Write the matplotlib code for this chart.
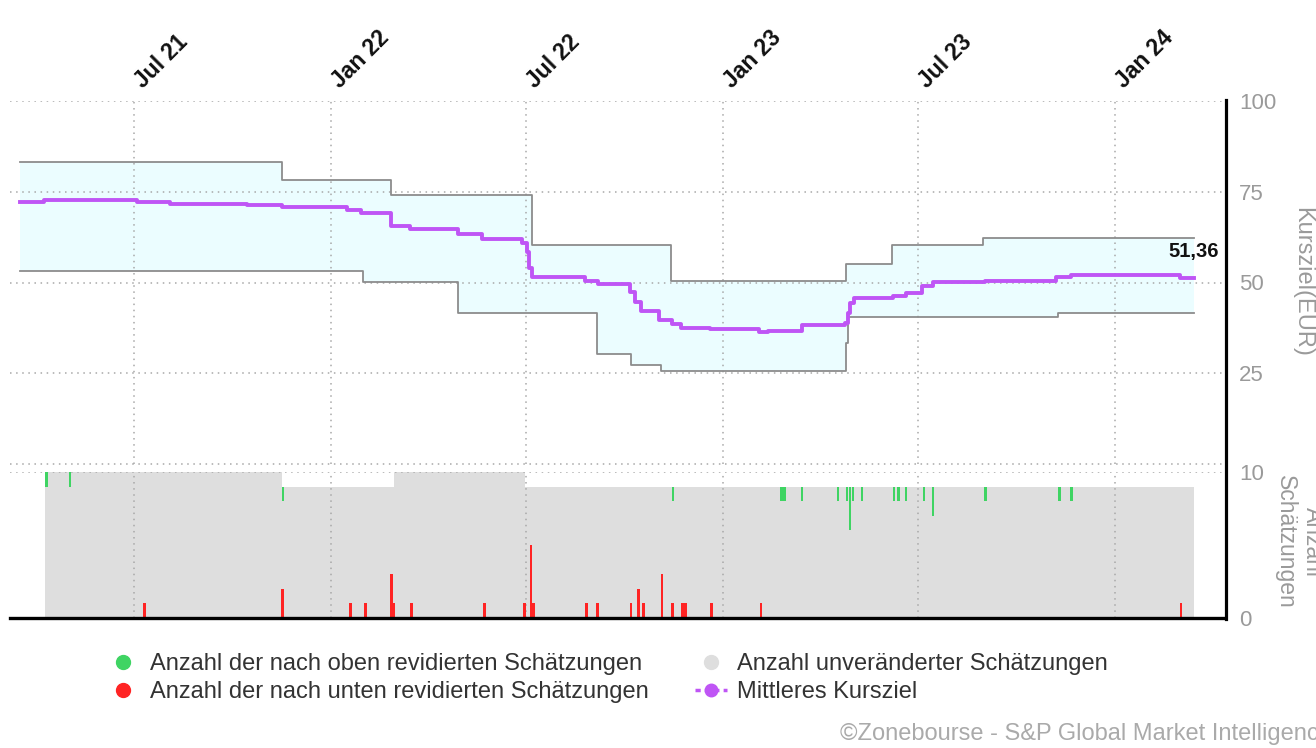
import numpy as np
import matplotlib
matplotlib.use("Agg")
import matplotlib.pyplot as plt
import matplotlib.dates as mdates
from matplotlib.lines import Line2D
from matplotlib.transforms import ScaledTranslation

plt.rcParams['font.family'] = ['Liberation Sans', 'DejaVu Sans']

# ---------------- data ----------------
range_max_dates = ["2021-03-17", "2021-11-16", "2022-02-26", "2022-07-07", "2022-11-13",
                   "2023-04-25", "2023-06-07", "2023-08-31", "2024-03-14"]
range_max_vals = [83.2, 78.1, 74.2, 60.2, 50.5, 55.2, 60.2, 62.2, 62.2]

range_min_dates = ["2021-03-17", "2022-01-31", "2022-04-29", "2022-09-05", "2022-10-07",
                   "2022-11-04", "2023-04-25", "2023-04-27", "2023-11-09", "2024-03-14"]
range_min_vals = [53.3, 50.2, 41.5, 30.4, 27.3, 25.5, 33.2, 40.4, 41.5, 41.5]

mean_dates = ["2021-03-17", "2021-04-09", "2021-07-04", "2021-08-04", "2021-10-15", "2021-11-16",
              "2022-01-16", "2022-01-29", "2022-02-26", "2022-03-15", "2022-04-29", "2022-05-21",
              "2022-06-28", "2022-07-02", "2022-07-04", "2022-07-07", "2022-08-25", "2022-09-06",
              "2022-10-06", "2022-10-11", "2022-10-16", "2022-11-02", "2022-11-14", "2022-11-23",
              "2022-12-20", "2023-02-03", "2023-02-12", "2023-03-15", "2023-04-24", "2023-04-27",
              "2023-04-29", "2023-05-03", "2023-06-08", "2023-06-20", "2023-07-05", "2023-07-15",
              "2023-09-02", "2023-11-07", "2023-11-21", "2024-03-01", "2024-03-14"]
mean_vals = [72.1, 72.7, 72.1, 71.5, 71.3, 70.7, 69.9, 69.2, 65.7, 64.7, 63.3, 62.0,
             61.0, 58.5, 54.0, 51.6, 50.5, 49.5, 47.5, 44.5, 42.1, 39.6, 38.5, 37.45,
             37.1, 36.4, 36.7, 38.2, 38.9, 41.5, 44.4, 45.8, 46.4, 47.0, 49.0, 50.2,
             50.4, 51.5, 52.2, 51.36, 51.36]

est_dates = ["2021-04-10", "2021-11-16", "2022-02-28", "2022-06-30", "2024-03-14"]
est_total = [10, 9, 10, 9, 9]

up_dates = ["2021-04-11", "2021-05-03", "2021-11-17", "2022-11-15", "2023-02-24", "2023-02-27",
            "2023-03-15", "2023-04-18", "2023-04-26", "2023-04-29", "2023-05-02", "2023-05-10",
            "2023-06-09", "2023-06-13", "2023-06-20", "2023-07-07", "2023-07-15", "2023-09-02",
            "2023-11-10", "2023-11-21"]
up_counts = [1, 1, 1, 1, 1, 1, 1, 1, 1, 3, 1, 1, 1, 1, 1, 1, 2, 1, 1, 1]

down_dates = ["2021-07-11", "2021-11-17", "2022-01-19", "2022-02-02", "2022-02-26", "2022-02-28",
              "2022-03-17", "2022-05-24", "2022-06-30", "2022-07-06", "2022-07-08", "2022-08-27",
              "2022-09-06", "2022-10-07", "2022-10-14", "2022-10-19", "2022-11-05", "2022-11-15",
              "2022-11-24", "2022-11-27", "2022-12-21", "2023-02-05", "2024-03-02"]
down_counts = [1, 2, 1, 1, 3, 1, 1, 1, 1, 5, 1, 1, 1, 1, 2, 1, 3, 1, 1, 1, 1, 1, 1]

tick_dates = ["2021-07-01", "2022-01-01", "2022-07-01", "2023-01-01", "2023-07-01", "2024-01-01"]
tick_labels = ["Jul 21", "Jan 22", "Jul 22", "Jan 23", "Jul 23", "Jan 24"]
x_range = ["2021-03-08", "2024-04-12"]

legend_labels = ["Anzahl der nach oben revidierten Schätzungen",
                 "Anzahl der nach unten revidierten Schätzungen",
                 "Anzahl unveränderter Schätzungen",
                 "Mittleres Kursziel"]

# ---------------- styling ----------------
PURPLE = '#bf55f5'
CYAN = '#ebfdff'
RANGE_LINE = '#8c8c8c'
GRAY_FILL = '#dedede'
GREEN = '#3fd463'
RED = '#ff2424'
TICK_COL = '#9a9a9a'
GRID_KW = dict(color='#a8a8a8', linestyle=(0, (1, 3)), linewidth=1.1)

W, H = 1316, 748


def fx(px):
    return px / W


def fy(py):
    return 1 - py / H


def num(ds):
    return mdates.datestr2num(ds)


def step_at(xd, yv, x):
    idx = np.searchsorted(xd, x, side='right') - 1
    return np.asarray(yv, dtype=float)[np.clip(idx, 0, None)]


fig = plt.figure(figsize=(W / 100, H / 100), dpi=100)
ax = fig.add_axes([fx(10), fy(464), fx(1225) - fx(10), fy(101) - fy(464)])
axb = fig.add_axes([fx(10), fy(618), fx(1225) - fx(10), fy(472) - fy(618)])

xlim = num(x_range)
xt = num(tick_dates)

# ---------------- top panel ----------------
xmax = num(range_max_dates)
xmin = num(range_min_dates)
xu = np.union1d(xmax, xmin)
ax.fill_between(xu, step_at(xmin, range_min_vals, xu), step_at(xmax, range_max_vals, xu),
                step='post', color=CYAN, lw=0, zorder=1)
ax.step(xmax, range_max_vals, where='post', color=RANGE_LINE, lw=1.3, zorder=2)
ax.step(xmin, range_min_vals, where='post', color=RANGE_LINE, lw=1.3, zorder=2)
xm = num(mean_dates)
ax.step(xm, mean_vals, where='post', color=PURPLE, lw=2.8, zorder=3)
ax.annotate(f"{mean_vals[-1]:.2f}".replace('.', ','), xy=(xm[-1], mean_vals[-1]),
            xytext=(0, 19), textcoords='offset points', ha='center', va='center',
            fontsize=14.5, fontweight='bold', color='#111111', zorder=5)

ax.set_xlim(*xlim)
ax.set_ylim(0, 100)
ax.set_yticks([25, 50, 75, 100])
ax.yaxis.tick_right()
ax.tick_params(axis='y', length=0, pad=10, labelsize=16, labelcolor=TICK_COL)
ax.xaxis.tick_top()
ax.set_xticks(xt)
ax.set_xticklabels(tick_labels, rotation=45, ha='left', va='baseline',
                   rotation_mode='anchor', fontweight='bold', fontsize=16.5, color='#111111')
ax.tick_params(axis='x', length=0, pad=12)
label_shift = ScaledTranslation(9 / 100, -5 / 100, fig.dpi_scale_trans)
for lab in ax.get_xticklabels():
    lab.set_transform(lab.get_transform() + label_shift)
ax.grid(True, **GRID_KW)
ax.set_axisbelow('line')
ax.axhline(0, clip_on=False, zorder=1.5, **GRID_KW)
for s in ax.spines.values():
    s.set_visible(False)

# ---------------- bottom panel ----------------
xe = num(est_dates)
axb.fill_between(xe, 0, est_total, step='post', color=GRAY_FILL, lw=0, zorder=1)
xd = num(down_dates)
axb.bar(xd, down_counts, width=2.6, color=RED, lw=0, zorder=2)
xup = num(up_dates)
axb.bar(xup, up_counts, bottom=step_at(xe, est_total, xup) - np.asarray(up_counts),
        width=2.2, color=GREEN, lw=0, zorder=2)

axb.set_xlim(*xlim)
axb.set_ylim(0, 10)
axb.set_yticks([0, 10])
axb.yaxis.tick_right()
axb.tick_params(axis='y', length=0, pad=10, labelsize=16, labelcolor=TICK_COL)
axb.set_xticks(xt)
axb.tick_params(axis='x', length=0, labelbottom=False)
axb.grid(True, **GRID_KW)
axb.set_axisbelow('line')
for k in ['top', 'left', 'right']:
    axb.spines[k].set_visible(False)
axb.spines['bottom'].set_color('black')
axb.spines['bottom'].set_linewidth(2.4)

# continuous right frame line
fig.add_artist(Line2D([fx(1225.5), fx(1225.5)], [fy(100), fy(619)], color='black', lw=2.3,
                      transform=fig.transFigure))

# axis titles
fig.text(fx(1302), fy(282), "Kursziel(EUR)", rotation=270, ha='center', va='center',
         fontsize=17, color=TICK_COL)
fig.text(fx(1299), fy(542), "Anzahl\nSchätzungen", rotation=270, ha='center', va='center',
         fontsize=16.5, color=TICK_COL, linespacing=1.25)

# legend
handles = [
    Line2D([], [], marker='o', ls='none', color=GREEN, markersize=10),
    Line2D([], [], marker='o', ls='none', color=RED, markersize=10),
    Line2D([], [], marker='o', ls='none', color=GRAY_FILL, markersize=10),
    Line2D([], [], color=PURPLE, ls=(0, (1.5, 1.2)), lw=2.5, marker='o', markersize=9),
]
fig.legend(handles, legend_labels, ncol=2, loc='upper left', bbox_to_anchor=(fx(107), fy(653)),
           frameon=False, fontsize=17, handlelength=1.35, handletextpad=0.45,
           columnspacing=1.97, labelspacing=0.25, borderpad=0, borderaxespad=0,
           labelcolor='#333333')

fig.text(fx(840), fy(734), "©Zonebourse - S&P Global Market Intelligence", ha='left',
         va='center', fontsize=17, color='#aaaaaa')

fig.savefig('out.png', dpi=100)
